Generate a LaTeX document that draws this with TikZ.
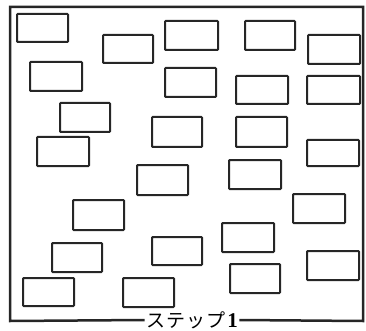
\documentclass[tikz,border=0pt]{standalone}
\usepackage{fontspec}
\newfontfamily\jpfont{Noto Sans CJK JP}
\newfontfamily\numfont{Liberation Serif}
\tikzset{
  boxnode/.style={draw=black!85, line width=2pt, rounded corners=0.8pt, inner sep=0pt, outer sep=0pt},
  framepath/.style={draw=black!85, line width=2.5pt},
  labelnode/.style={fill=white, inner xsep=1.5pt, inner ysep=0pt, font=\jpfont\fontsize{19}{19}\selectfont}
}
\begin{document}
\begin{tikzpicture}[x=1pt,y=-1pt]
\useasboundingbox (0,0) rectangle (366,331);
\foreach \xa/\ya/\xb/\yb/\nm in {
 17/14/68/42/b1, 103/35/153/63/b2, 30/62/82/91/b3, 60/103/110/132/b4,
 37/137/89/166/b5, 165/21/218/50/b6, 165/68/216/97/b7, 152/117/202/147/b8,
 245/21/295/50/b9, 308/35/360/64/b10, 236/76/288/104/b11, 307/76/360/104/b12,
 236/117/287/147/b13, 307/140/359/166/b14, 229/160/281/189/b15, 137/165/188/195/b16,
 73/200/124/230/b17, 52/243/102/272/b18, 23/278/74/306/b19, 123/278/174/307/b20,
 152/237/202/265/b21, 293/194/345/223/b22, 222/223/274/252/b23, 230/264/280/293/b24,
 307/251/359/280/b25}
{
  \node[boxnode, minimum width={(\xb-\xa)*1pt}, minimum height={(\yb-\ya)*1pt}]
    (\nm) at ({(\xa+\xb)/2},{(\ya+\yb)/2}) {};
}
\coordinate (tl) at (10,7);
\coordinate (tr) at (363,7);
\coordinate (bl) at (10,321);
\coordinate (br) at (363,321);
\node[labelnode, anchor=center] (lbl) at (192,320) {ス\kern1ptテ\kern1ptッ\kern1ptプ\kern2pt{\numfont\bfseries\fontsize{21}{21}\selectfont 1}};
\draw[framepath, line join=miter] (lbl.west) -- (bl) -- (tl) -- (tr) -- (br) -- (lbl.east);
\end{tikzpicture}
\end{document}
